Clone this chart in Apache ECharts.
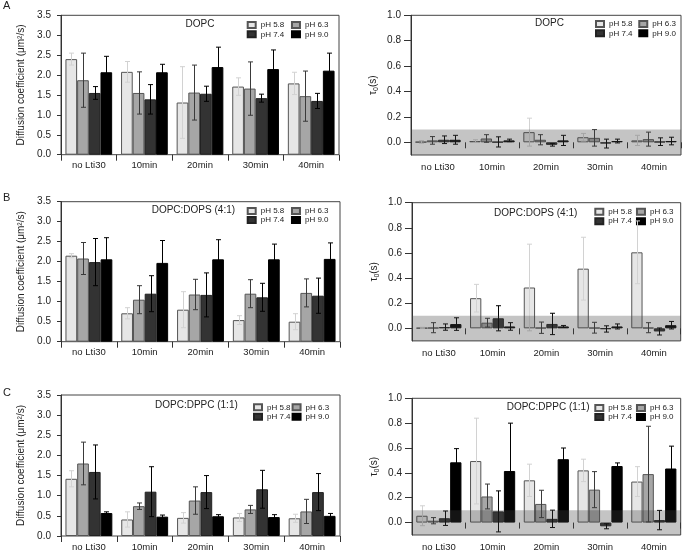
<!DOCTYPE html>
<html><head><meta charset="utf-8">
<script src="https://cdn.jsdelivr.net/npm/echarts@6/dist/echarts.min.js"></script>
<style>html,body{margin:0;padding:0;background:#fff}#c{width:683px;height:552px}</style>
</head><body><div id="c"></div>
<script>
// ---------- data ----------
const categories = ['no Lti30', '10min', '20min', '30min', '40min'];
const phNames = ['pH 5.8', 'pH 6.3', 'pH 7.4', 'pH 9.0'];
const diffTickMax = 3.5;
const tauTicks = [0, 0.2, 0.4, 0.6, 0.8, 1.0];
const bandLow = -0.1, bandHigh = 0.1;

// rows: pH 5.8, 6.3, 7.4, 9.0 ; columns: categories
const dopcDiff = [
  [2.40, 2.08, 1.31, 1.71, 1.79],
  [1.87, 1.55, 1.56, 1.66, 1.47],
  [1.55, 1.39, 1.53, 1.42, 1.35],
  [2.07, 2.07, 2.20, 2.15, 2.11]];
const dopcDiffErr = [
  [0.15, 0.26, 0.90, 0.22, 0.28],
  [0.68, 0.53, 0.69, 0.67, 0.63],
  [0.16, 0.37, 0.19, 0.10, 0.19],
  [0.40, 0.20, 0.50, 0.48, 0.44]];
const dopcTau = [
  [0.003, 0.010, 0.080, 0.040, 0.015],
  [0.015, 0.030, 0.020, 0.035, 0.025],
  [0.020, 0.003, -0.020, -0.010, 0.005],
  [0.020, 0.015, 0.015, 0.010, 0.010]];
const dopcTauErr = [
  [0.010, 0.010, 0.110, 0.030, 0.040],
  [0.030, 0.030, 0.040, 0.065, 0.055],
  [0.030, 0.040, 0.010, 0.035, 0.030],
  [0.035, 0.010, 0.040, 0.015, 0.030]];

const dopsDiff = [
  [2.15, 0.71, 0.80, 0.54, 0.50],
  [2.08, 1.05, 1.18, 1.20, 1.22],
  [1.99, 1.20, 1.17, 1.11, 1.15],
  [2.06, 1.97, 2.06, 2.06, 2.07]];
const dopsDiffErr = [
  [0.05, 0.14, 0.45, 0.11, 0.20],
  [0.40, 0.35, 0.38, 0.35, 0.35],
  [0.59, 0.45, 0.55, 0.35, 0.44],
  [0.54, 0.56, 0.49, 0.38, 0.40]];
const dopsTau = [
  [0.003, 0.240, 0.325, 0.475, 0.605],
  [0.005, 0.045, 0.005, 0.005, 0.005],
  [0.010, 0.080, 0.035, -0.005, -0.025],
  [0.034, 0.015, 0.015, 0.015, 0.025]];
const dopsTauErr = [
  [0.005, 0.110, 0.345, 0.250, 0.250],
  [0.040, 0.035, 0.045, 0.043, 0.040],
  [0.025, 0.100, 0.085, 0.025, 0.028],
  [0.050, 0.030, 0.008, 0.020, 0.030]];

const dppcDiff = [
  [1.42, 0.41, 0.45, 0.46, 0.44],
  [1.80, 0.74, 0.88, 0.66, 0.61],
  [1.59, 1.10, 1.09, 1.16, 1.09],
  [0.57, 0.48, 0.49, 0.47, 0.50]];
const dppcDiffErr = [
  [0.20, 0.19, 0.13, 0.10, 0.10],
  [0.53, 0.08, 0.34, 0.10, 0.30],
  [0.67, 0.62, 0.41, 0.47, 0.46],
  [0.03, 0.04, 0.04, 0.06, 0.06]];
const dppcTau = [
  [0.055, 0.495, 0.340, 0.420, 0.330],
  [0.015, 0.210, 0.150, 0.265, 0.390],
  [0.035, 0.090, 0.030, -0.030, 0.020],
  [0.485, 0.415, 0.510, 0.455, 0.435]];
const dppcTauErr = [
  [0.080, 0.345, 0.130, 0.090, 0.120],
  [0.025, 0.100, 0.110, 0.145, 0.385],
  [0.058, 0.165, 0.070, 0.020, 0.078],
  [0.110, 0.385, 0.090, 0.025, 0.180]];

// ---------- styles / layout ----------
const FONT = 'Liberation Sans, Arial, Helvetica, sans-serif';
const barFill = ['#e6e6e6', '#a6a6a6', '#333333', '#000000'];
const barBorder = ['#555555', '#555555', '#222222', '#000000'];
const errColor = ['#d2d2d2', '#3a3a3a', '#000000', '#000000'];
const CAT_GAP = 0.16;

const panels = [
  {kind: 'diff', title: 'DOPC', vals: dopcDiff, errs: dopcDiffErr,
   grid: {left: 61, top: 15.3, width: 278, height: 139.4},
   titlePos: [185.5, 19], legend: [246.7, 21, 30.3, 6.7]},
  {kind: 'tau', title: 'DOPC', vals: dopcTau, errs: dopcTauErr,
   grid: {left: 411, top: 15.3, width: 270, height: 139.7},
   titlePos: [535, 18.5], legend: [595, 20, 29.3, 5.7]},
  {kind: 'diff', title: 'DOPC:DOPS (4:1)', vals: dopsDiff, errs: dopsDiffErr,
   grid: {left: 61, top: 201.7, width: 279, height: 140},
   titlePos: [151.7, 205], legend: [246.7, 207, 216, 6.7]},
  {kind: 'tau', title: 'DOPC:DOPS (4:1)', vals: dopsTau, errs: dopsTauErr,
   grid: {left: 412, top: 202.7, width: 268.7, height: 138.2},
   titlePos: [494, 208], legend: [594.3, 207.7, 217.2, 4.1]},
  {kind: 'diff', title: 'DOPC:DPPC (1:1)', vals: dppcDiff, errs: dppcDiffErr,
   grid: {left: 61, top: 395, width: 279, height: 142.3},
   titlePos: [155, 400], legend: [253, 403.3, 412.7, 1]},
  {kind: 'tau', title: 'DOPC:DPPC (1:1)', vals: dppcTau, errs: dppcTauErr,
   grid: {left: 412, top: 398.3, width: 268.7, height: 139},
   titlePos: [506.7, 402], legend: [594.3, 404, 413, 4.1]}
];

function renderErr(params, api) {
  const c = api.value(0), s = api.value(1), v = api.value(2), e = api.value(3);
  const band = api.size([1, 0])[0];
  const groupW = band * (1 - CAT_GAP);
  const bw = groupW / 4;
  const cx = Math.round(api.coord([c, 0])[0] - groupW / 2 + (s + 0.5) * bw) + 0.5;
  const yTop = api.coord([c, v + e])[1];
  const yBot = api.coord([c, v - e])[1];
  const cap = 2.5;
  const style = {stroke: errColor[s], lineWidth: 1, fill: null};
  return {type: 'group', children: [
    {type: 'line', shape: {x1: cx, y1: yTop, x2: cx, y2: yBot}, style},
    {type: 'line', shape: {x1: cx - cap, y1: yTop, x2: cx + cap, y2: yTop}, style},
    {type: 'line', shape: {x1: cx - cap, y1: yBot, x2: cx + cap, y2: yBot}, style}
  ]};
}

function renderBand(params, api) {
  const cs = params.coordSys;
  const y1 = api.coord([0, api.value(1)])[1];
  const y2 = api.coord([0, api.value(2)])[1];
  return {type: 'rect', shape: {x: cs.x, y: y2, width: cs.width, height: y1 - y2},
    style: {fill: 'rgba(64,64,64,0.31)'}};
}

const grid = [], xAxis = [], yAxis = [], series = [], title = [], legend = [];
panels.forEach((p, pi) => {
  grid.push(Object.assign({show: true, borderColor: '#444', borderWidth: 1,
    backgroundColor: 'transparent', containLabel: false}, p.grid));
  const isTau = p.kind === 'tau';
  xAxis.push({
    type: 'category', gridIndex: pi, data: categories, offset: isTau ? 2 : 1,
    axisLine: {show: false},
    axisTick: {show: true, length: 6, alignWithLabel: false, lineStyle: {color: '#333'}},
    axisLabel: {fontSize: 9.5, color: '#222', margin: 5, interval: 0, fontFamily: FONT},
    splitLine: {show: false}
  });
  if (!isTau) {
    yAxis.push({
      type: 'value', gridIndex: pi, min: 0, max: diffTickMax, interval: 0.5,
      axisLine: {show: true, lineStyle: {color: '#333'}},
      axisTick: {show: true, length: 4, lineStyle: {color: '#333'}},
      axisLabel: {fontSize: 10, color: '#222', margin: 10, fontFamily: FONT,
        formatter: v => v.toFixed(1)},
      splitLine: {show: false},
      name: 'Diffusion coefficient (μm²/s)', nameLocation: 'middle', nameGap: 35,
      nameTextStyle: {fontSize: 10, color: '#222', fontFamily: FONT}
    });
  } else {
    yAxis.push({
      type: 'value', gridIndex: pi, min: bandLow, max: tauTicks[tauTicks.length - 1],
      axisLine: {show: true, lineStyle: {color: '#333'}},
      axisTick: {show: true, length: 7, customValues: tauTicks, lineStyle: {color: '#333'}},
      axisLabel: {fontSize: 10, color: '#222', margin: 10, fontFamily: FONT,
        customValues: tauTicks, formatter: v => v.toFixed(1)},
      splitLine: {show: false},
      name: '{a|τ}{b|0}{a|(s)}', nameLocation: 'middle', nameGap: 31,
      nameTextStyle: {fontSize: 10, color: '#222', fontFamily: FONT,
        rich: {a: {fontSize: 10, fontFamily: FONT, color: '#222'},
               b: {fontSize: 7, fontFamily: FONT, color: '#222', padding: [6, 0, 0, 0]}}}
    });
  }
  phNames.forEach((nm, si) => {
    series.push({
      type: 'bar', name: nm, xAxisIndex: pi, yAxisIndex: pi,
      data: p.vals[si], barGap: '0%', barCategoryGap: (CAT_GAP * 100) + '%',
      itemStyle: {color: barFill[si], borderColor: barBorder[si], borderWidth: 1},
      emphasis: {disabled: true}, z: 2, animation: false
    });
  });
  const errData = [];
  p.vals.forEach((row, si) => row.forEach((v, ci) => errData.push([ci, si, v, p.errs[si][ci]])));
  series.push({
    type: 'custom', xAxisIndex: pi, yAxisIndex: pi, renderItem: renderErr,
    data: errData, encode: {x: 0, y: 2}, z: 4, silent: true, animation: false
  });
  if (isTau) {
    series.push({
      type: 'custom', xAxisIndex: pi, yAxisIndex: pi, renderItem: renderBand,
      data: [[0, bandLow, bandHigh]], encode: {x: 0, y: [1, 2]}, z: 5, silent: true,
      animation: false
    });
  }
  title.push({text: p.title, left: p.titlePos[0], top: p.titlePos[1], padding: 0,
    textStyle: {fontSize: 10, fontWeight: 'normal', color: '#222', fontFamily: FONT}});
  const [lx, t1, t2, gap] = p.legend;
  [[phNames[0], phNames[1], t1], [phNames[2], phNames[3], t2]].forEach(r => {
    legend.push({data: [r[0], r[1]], left: lx, top: r[2], padding: 0, itemGap: gap,
      itemWidth: 8, itemHeight: 6, icon: 'rect', selectedMode: false, orient: 'horizontal',
      textStyle: {fontSize: 8, color: '#222', fontFamily: FONT}});
  });
});

const chart = echarts.init(document.getElementById('c'), null, {renderer: 'canvas'});
chart.setOption({
  animation: false,
  textStyle: {fontFamily: FONT},
  grid, xAxis, yAxis, series, title, legend,
  graphic: [
    {type: 'text', left: 3, top: 0, style: {text: 'A', fontSize: 11, fill: '#222', fontFamily: FONT}},
    {type: 'text', left: 3, top: 192, style: {text: 'B', fontSize: 11, fill: '#222', fontFamily: FONT}},
    {type: 'text', left: 3, top: 387, style: {text: 'C', fontSize: 11, fill: '#222', fontFamily: FONT}}
  ]
});
</script>
</body></html>
